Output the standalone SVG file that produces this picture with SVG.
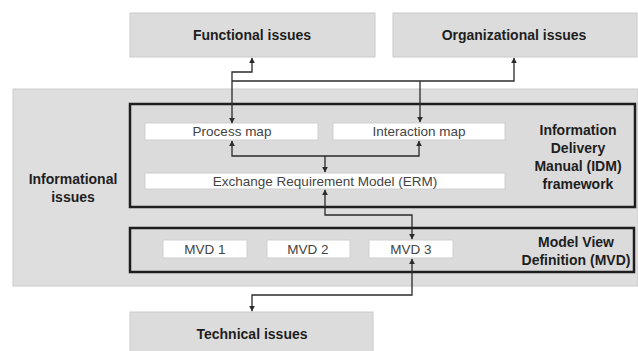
<svg xmlns="http://www.w3.org/2000/svg" width="638" height="351" viewBox="0 0 638 351">
  <defs>
    <marker id="arrow" viewBox="0 0 10 10" refX="9" refY="5" markerWidth="6" markerHeight="6" markerUnits="userSpaceOnUse" orient="auto-start-reverse">
      <path d="M0,0 L10,5 L0,10 z" fill="#2a2a2a"/>
    </marker>
  </defs>
  <style>
    .issue { fill: #dcdcdc; stroke: #cacaca; stroke-width: 1; }
    .area { fill: #dedede; stroke: #cbcbcb; stroke-width: 1; }
    .frame { fill: #dbdbdb; stroke: #1e1e1e; stroke-width: 2.5; }
    .item { fill: #ffffff; stroke: #cfcfcf; stroke-width: 1; }
    .bold { font-family: "Liberation Sans", Arial, sans-serif; font-weight: bold; font-size: 14px; fill: #1e1e1e; text-anchor: middle; }
    .label { font-family: "Liberation Sans", Arial, sans-serif; font-size: 13.5px; fill: #444444; text-anchor: middle; }
    .conn { fill: none; stroke: #2a2a2a; stroke-width: 1.3; }
  </style>

  <rect width="638" height="351" fill="#ffffff"/>

  <!-- informational layer backdrop -->
  <g id="informational">
    <rect class="area" x="13" y="89" width="625" height="197"/>
    <text class="bold" x="73" y="184">Informational</text>
    <text class="bold" x="73" y="202">issues</text>
  </g>

  <g id="functional">
    <rect class="issue" x="130" y="13" width="245" height="44"/>
    <text class="bold" x="252" y="40">Functional issues</text>
  </g>

  <g id="organizational">
    <rect class="issue" x="393" y="13" width="244" height="44"/>
    <text class="bold" x="514" y="40">Organizational issues</text>
  </g>

  <g id="idm">
    <rect class="frame" x="130" y="104" width="505" height="103"/>
    <text class="bold" x="578" y="135">Information</text>
    <text class="bold" x="578" y="153">Delivery</text>
    <text class="bold" x="578" y="171">Manual (IDM)</text>
    <text class="bold" x="578" y="189">framework</text>
  </g>

  <g id="process-map">
    <rect class="item" x="145" y="123" width="173" height="17"/>
    <text class="label" x="232" y="136">Process map</text>
  </g>

  <g id="interaction-map">
    <rect class="item" x="333" y="123" width="172" height="17"/>
    <text class="label" x="419" y="136">Interaction map</text>
  </g>

  <g id="erm">
    <rect class="item" x="145" y="173" width="360" height="16"/>
    <text class="label" x="325" y="186">Exchange Requirement Model (ERM)</text>
  </g>

  <g id="mvd">
    <rect class="frame" x="130" y="228" width="504" height="44"/>
    <text class="bold" x="576" y="247">Model View</text>
    <text class="bold" x="576" y="265">Definition (MVD)</text>
  </g>

  <g id="mvd1">
    <rect class="item" x="163" y="240" width="84" height="18"/>
    <text class="label" x="205" y="254">MVD 1</text>
  </g>

  <g id="mvd2">
    <rect class="item" x="267" y="240" width="83" height="18"/>
    <text class="label" x="308" y="254">MVD 2</text>
  </g>

  <g id="mvd3">
    <rect class="item" x="369" y="240" width="84" height="18"/>
    <text class="label" x="411" y="254">MVD 3</text>
  </g>

  <g id="technical">
    <rect class="issue" x="130" y="312" width="243" height="44"/>
    <text class="bold" x="252" y="339">Technical issues</text>
  </g>

  <g id="connectors">
    <!-- functional / organizational issues to the maps -->
    <path class="conn" d="M232,81 L514,81 L514,58" marker-end="url(#arrow)"/>
    <path class="conn" d="M232,123 L232,72 L252,72 L252,58" marker-start="url(#arrow)" marker-end="url(#arrow)"/>
    <path class="conn" d="M420,81 L420,122" marker-end="url(#arrow)"/>
    <!-- process map / interaction map to ERM -->
    <path class="conn" d="M232,141 L232,156 L419,156 L419,141" marker-start="url(#arrow)" marker-end="url(#arrow)"/>
    <path class="conn" d="M325,156 L325,172" marker-end="url(#arrow)"/>
    <!-- ERM to MVD 3 -->
    <path class="conn" d="M325,190 L325,215 L412,215 L412,239" marker-start="url(#arrow)" marker-end="url(#arrow)"/>
    <!-- MVD 3 to technical issues -->
    <path class="conn" d="M412,259 L412,295 L252,295 L252,311" marker-start="url(#arrow)" marker-end="url(#arrow)"/>
  </g>
</svg>
